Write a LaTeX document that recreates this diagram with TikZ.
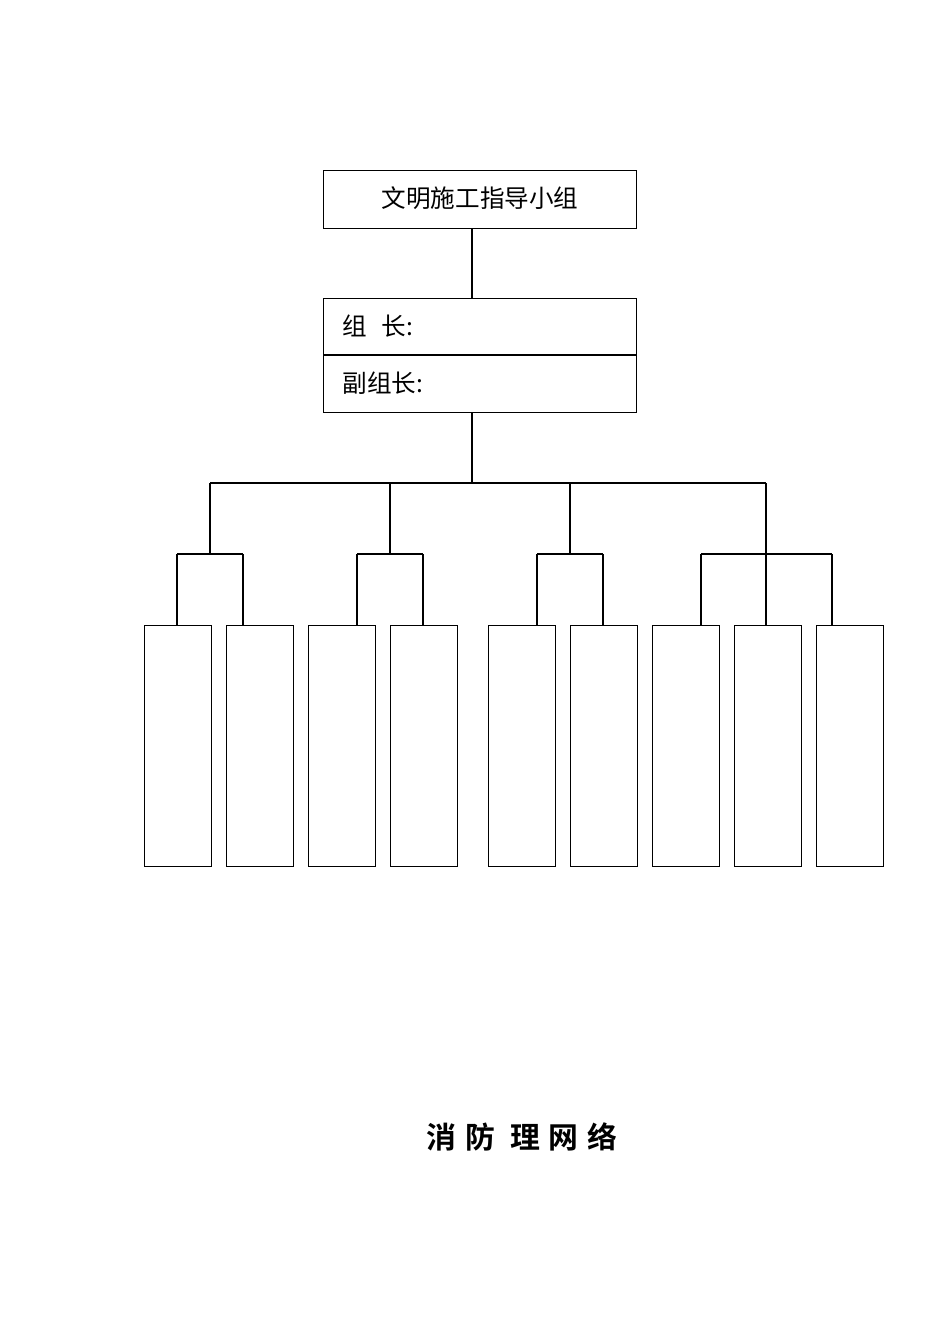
\documentclass[tikz,border=0pt]{standalone}
\usepackage{fontspec}
\newfontfamily\cjk{Noto Sans CJK SC}
\newfontfamily\cjkb{Noto Sans CJK SC Bold}
\begin{document}
\begin{tikzpicture}[x=0.02cm,y=-0.02cm,line width=0.7pt,
  box/.style={draw,minimum width=1.34cm,minimum height=4.82cm,inner sep=0,anchor=north west}]
\useasboundingbox (0,0) rectangle (950,1342);
\node[draw,minimum width=6.26cm,minimum height=1.16cm,inner sep=0,anchor=north west] (top) at (323,170) {};
\node[font=\cjk\fontsize{14}{16}\selectfont] at (480,198) {文明施工指导小组};
\node[draw,minimum width=6.26cm,minimum height=2.28cm,inner sep=0,anchor=north west] (lead) at (323,298) {};
\draw (323,355) -- (636,355);
\node[font=\cjk\fontsize{14}{16}\selectfont,anchor=west] at (336,326) {组\hspace{0.6em}长:};
\node[font=\cjk\fontsize{14}{16}\selectfont,anchor=west] at (336,383) {副组长:};
\coordinate (a) at (472,228); \coordinate (b) at (472,298);
\draw (a) -- (b);
\coordinate (c) at (472,412); \coordinate (d) at (472,483);
\draw (c) -- (d);
\draw (210,483) -- (766,483);
\foreach \x in {210,390,570,766} \draw (\x,483) -- (\x,554);
\draw (177,554) -- (243,554);
\draw (357,554) -- (423,554);
\draw (537,554) -- (603,554);
\draw (701,554) -- (832,554);
\foreach \x in {177,243,357,423,537,603,701,766,832} \draw (\x,554) -- (\x,625);
\foreach \x [count=\i] in {144,226,308,390,488,570,652,734,816}
  \node[box] (m\i) at (\x,625) {};
\node[font=\cjkb\fontsize{17}{20}\selectfont] (title) at (522,1137) {消\hspace{0.3em}防\hspace{0.5em}理\hspace{0.3em}网\hspace{0.3em}络};
\end{tikzpicture}
\end{document}
